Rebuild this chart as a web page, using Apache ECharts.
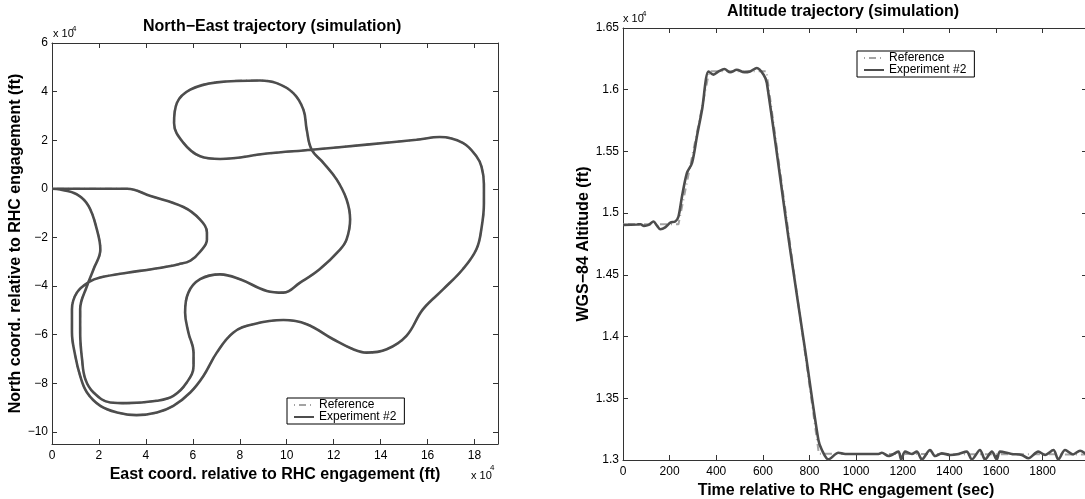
<!DOCTYPE html>
<html>
<head>
<meta charset="utf-8">
<script src="https://cdn.jsdelivr.net/npm/echarts@6/dist/echarts.min.js"></script>
<style>
html,body{margin:0;padding:0;background:#fff;overflow:hidden;}
#chart{width:1085px;height:499px;}
</style>
</head>
<body>
<div id="chart"></div>
<script>
// ---- North-East trajectory (ft) ----
const neEast = [0, 15000, 32000, 42000, 56000, 63000, 66000, 66000, 63000, 59000, 54000, 43000, 32000, 20500, 16000, 10600, 8500, 8500, 9900, 12000, 14900, 20600, 27700, 36000, 44700, 51700, 58900, 64500, 70200, 77300, 85800, 98600, 108500, 119800, 128300, 134000, 142600, 151000, 158000, 166600, 175000, 180800, 183000, 184000, 184000, 183000, 180800, 175000, 165200, 155300, 134000, 110600, 91500, 71600, 63100, 56000, 52000, 53200, 58900, 70200, 88600, 95700, 102800, 107100, 108500, 110600, 115600, 121300, 125500, 127000, 125500, 122700, 114000, 105700, 98600, 91500, 80100, 71600, 63100, 58100, 56700, 58100, 60300, 60300, 57400, 51700, 44700, 31900, 24800, 17700, 14200, 12800, 12000, 12000, 14900, 17700, 20600, 19100, 15600, 10600, 3500, 0];
const neNorth = [0, 0, 0, -3000, -7500, -12600, -18000, -21000, -26000, -29500, -31000, -33000, -34500, -36500, -38200, -42700, -49600, -59000, -68700, -77000, -83800, -89300, -92000, -93100, -92000, -89300, -83800, -77000, -67400, -59100, -55700, -54000, -55700, -61900, -66000, -67400, -66000, -60500, -49600, -41400, -33100, -24900, -16000, -6000, 2000, 9000, 13400, 18900, 21300, 20200, 18200, 16100, 14500, 12300, 13400, 18900, 27100, 35300, 40800, 43800, 44600, 43500, 39400, 32600, 24400, 16100, 10700, 3800, -4400, -12600, -20800, -25000, -33100, -38600, -42700, -42000, -37200, -35200, -37200, -42700, -50900, -59100, -67400, -72900, -79700, -85200, -87200, -88200, -87900, -83800, -78300, -70100, -59100, -49600, -40000, -33100, -25000, -16700, -7100, -2300, -300, 0];

// ---- Altitude trajectory ----
const refTime = [0, 238, 370, 615, 840, 1990];
const refAlt  = [14910, 14910, 16150, 16150, 13050, 13045];
const expTime = [0, 60, 75, 90, 110, 131, 145, 160, 181, 203, 224, 238, 253, 274, 296, 317, 339, 367, 388, 410, 435, 460, 488, 520, 545, 574, 603, 617, 717, 781, 838, 853, 881, 924, 953, 1000, 1096, 1110, 1139, 1181, 1193, 1210, 1239, 1260, 1282, 1317, 1339, 1367, 1403, 1439, 1474, 1496, 1531, 1553, 1582, 1603, 1617, 1667, 1710, 1739, 1781, 1810, 1846, 1867, 1896, 1930, 1960, 1990];
const expAlt  = [14905, 14908, 14910, 14897, 14905, 14932, 14900, 14870, 14885, 14924, 14932, 14973, 15135, 15325, 15406, 15621, 15838, 16148, 16122, 16148, 16168, 16141, 16162, 16141, 16148, 16176, 16122, 16054, 14703, 13892, 13162, 13081, 13005, 13059, 13049, 13049, 13049, 13059, 13032, 13068, 13005, 13068, 13049, 13068, 13005, 13081, 13032, 13054, 13041, 13049, 13068, 13005, 13081, 13005, 13068, 13005, 13068, 13049, 13041, 13014, 13068, 13041, 13081, 13005, 13081, 13045, 13075, 13040];

const FONT = '"Liberation Sans", Arial, Helvetica, sans-serif';
const AXC = '#333';
const EXP_COLOR = '#4d4d4d';
const REF_COLOR = '#a3a3a3';

const minus = s => String(s).replace('-', '\u2212');
const fmt4 = v => minus(+(v / 1e4).toFixed(2));

function baseAxis(extra) {
  return Object.assign({
    type: 'value',
    axisLine: { show: true, onZero: false, lineStyle: { color: AXC, width: 1 } },
    axisTick: { show: true, inside: true, length: 5, lineStyle: { color: AXC } },
    splitLine: { show: false },
    axisLabel: { color: '#000', fontSize: 12, fontFamily: FONT, formatter: fmt4, showMinLabel: true, showMaxLabel: true },
    nameTextStyle: { color: '#000', fontSize: 16, fontWeight: 'bold', fontFamily: FONT }
  }, extra);
}

const x0 = baseAxis({ gridIndex: 0, min: 0, max: 190000, interval: 20000, position: 'bottom',
  name: 'East coord. relative to RHC engagement (ft)', nameLocation: 'middle', nameGap: 19 });
x0.axisLabel = Object.assign({}, x0.axisLabel, { margin: 6, showMaxLabel: false });
const y0 = baseAxis({ gridIndex: 0, min: -105000, max: 60000, splitNumber: 8, position: 'left',
  name: 'North coord. relative to RHC engagement (ft)', nameLocation: 'middle', nameGap: 26 });
y0.axisLabel = Object.assign({}, y0.axisLabel, { margin: 4, showMinLabel: false });

const x1 = baseAxis({ gridIndex: 1, min: 0, max: 1990, interval: 200, position: 'bottom',
  name: 'Time relative to RHC engagement (sec)', nameLocation: 'middle', nameGap: 17 });
x1.axisLabel = Object.assign({}, x1.axisLabel, { margin: 6, showMaxLabel: false, formatter: v => String(v) });
x1.nameTextStyle = Object.assign({}, x1.nameTextStyle, { padding: [0, 18, 0, 0] });
const y1 = baseAxis({ gridIndex: 1, min: 13000, max: 16500, interval: 500, position: 'left',
  name: 'WGS\u221284 Altitude (ft)', nameLocation: 'middle', nameGap: 26 });
y1.axisLabel = Object.assign({}, y1.axisLabel, { margin: 4 });

const x0t = baseAxis({ gridIndex: 0, min: 0, max: 190000, interval: 20000, position: 'top', axisLabel: { show: false } });
const y0r = baseAxis({ gridIndex: 0, min: -105000, max: 60000, splitNumber: 8, position: 'right', axisLabel: { show: false } });
const x1t = baseAxis({ gridIndex: 1, min: 0, max: 1990, interval: 200, position: 'top', axisLabel: { show: false } });
const y1r = baseAxis({ gridIndex: 1, min: 13000, max: 16500, interval: 500, position: 'right', axisLabel: { show: false } });

const legendBase = {
  orient: 'vertical',
  data: ['Reference', 'Experiment #2'],
  borderColor: '#000', borderWidth: 1, backgroundColor: '#fff',
  padding: [1, 8, 1, 6], itemGap: 0, itemWidth: 20, itemHeight: 14,
  selectedMode: false,
  itemStyle: { color: 'rgba(0,0,0,0)', borderColor: 'rgba(0,0,0,0)', borderWidth: 0 },
  textStyle: { color: '#000', fontSize: 12, fontFamily: FONT }
};

const refLine = { color: REF_COLOR, width: 2, type: [1, 4, 7, 4] };
const expLine = { color: EXP_COLOR, width: 2.6 };

const option = {
  animation: false,
  backgroundColor: '#fff',
  title: [
    { text: 'North\u2212East trajectory (simulation)', left: 143, top: 19, padding: 0,
      textStyle: { fontSize: 16, fontWeight: 'bold', fontFamily: FONT, color: '#000' } },
    { text: 'Altitude trajectory (simulation)', left: 727, top: 4, padding: 0,
      textStyle: { fontSize: 16, fontWeight: 'bold', fontFamily: FONT, color: '#000' } }
  ],
  legend: [
    Object.assign({}, legendBase, { left: 287, top: 398 }),
    Object.assign({}, legendBase, { left: 857, top: 51 })
  ],
  grid: [
    { left: 52, top: 43, width: 446, height: 401, containLabel: false, outerBoundsMode: 'none' },
    { left: 623, top: 28, width: 464, height: 432, containLabel: false, outerBoundsMode: 'none' }
  ],
  xAxis: [x0, x0t, x1, x1t],
  yAxis: [y0, y0r, y1, y1r],
  series: [
    { name: 'Reference', type: 'line', xAxisIndex: 0, yAxisIndex: 0, symbol: 'none', smooth: 0.4,
      lineStyle: refLine, itemStyle: { color: REF_COLOR },
      data: neEast.map((e, i) => [e, neNorth[i]]) },
    { name: 'Experiment #2', type: 'line', xAxisIndex: 0, yAxisIndex: 0, symbol: 'none', smooth: 0.4,
      lineStyle: expLine, itemStyle: { color: EXP_COLOR },
      data: neEast.map((e, i) => [e, neNorth[i]]) },
    { name: 'Reference', type: 'line', xAxisIndex: 2, yAxisIndex: 2, symbol: 'none',
      lineStyle: refLine, itemStyle: { color: REF_COLOR },
      data: refTime.map((t, i) => [t, refAlt[i]]) },
    { name: 'Experiment #2', type: 'line', xAxisIndex: 2, yAxisIndex: 2, symbol: 'none', smooth: 0.3,
      lineStyle: expLine, itemStyle: { color: EXP_COLOR },
      data: expTime.map((t, i) => [t, expAlt[i]]) }
  ],
  graphic: [
    { type: 'text', left: 53, top: 28, style: { text: 'x 10', fontSize: 11, fontFamily: FONT, fill: '#000' } },
    { type: 'text', left: 72, top: 25, style: { text: '4', fontSize: 8, fontFamily: FONT, fill: '#000' } },
    { type: 'text', left: 623, top: 13, style: { text: 'x 10', fontSize: 11, fontFamily: FONT, fill: '#000' } },
    { type: 'text', left: 642, top: 10, style: { text: '4', fontSize: 8, fontFamily: FONT, fill: '#000' } },
    { type: 'text', left: 471, top: 470, style: { text: 'x 10', fontSize: 11, fontFamily: FONT, fill: '#000' } },
    { type: 'text', left: 490, top: 464, style: { text: '4', fontSize: 8, fontFamily: FONT, fill: '#000' } }
  ]
};

const chart = echarts.init(document.getElementById('chart'), null, { renderer: 'canvas' });
chart.setOption(option);
</script>
</body>
</html>
